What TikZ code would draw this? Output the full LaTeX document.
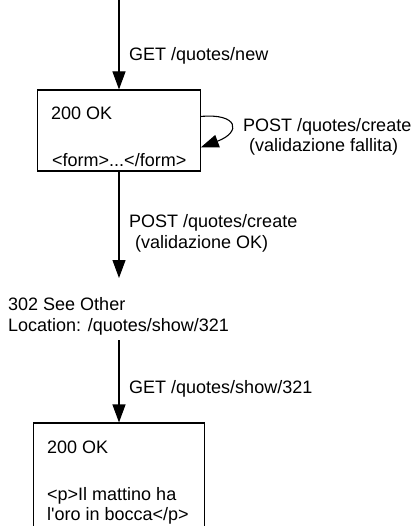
\documentclass[tikz,border=0pt]{standalone}
\usepackage{fontspec}
\newfontfamily\lsans{Liberation Sans}
\usetikzlibrary{arrows.meta}
\tikzset{
  flow/.style={line width=1.1pt, -{Triangle[length=18pt,width=13pt]}},
  box/.style={draw, line width=1.1pt, rectangle, inner sep=0pt},
  txt/.style={anchor=base west, inner sep=0pt, font=\lsans\fontsize{18}{21}\selectfont}
}
\begin{document}
\begin{tikzpicture}[x=1pt,y=-1pt]
\useasboundingbox (0,0) rectangle (414,526);
\fill[white] (0,0) rectangle (414,526);
\clip (0,0) rectangle (414,526);
% boxes
\node[box, minimum width=163pt, minimum height=81pt] (box1) at (119,130.5) {};
\node[box, minimum width=171pt, minimum height=120pt] (box2) at (119,483) {};
% texts
\node[txt] (b1a) at (51,120) {200 OK};
\node[txt] (b1b) at (52,167) {<form>...</form>};
\node[txt] (l1) at (129,61) {GET /quotes/new};
\node[txt] (l2a) at (243,132) {POST /quotes/create};
\node[txt] (l2b) at (249,152) {(validazione fallita)};
\node[txt] (l3a) at (129,227) {POST /quotes/create};
\node[txt] (l3b) at (135,248) {(validazione OK)};
\node[txt] (r1) at (8,310) {302 See Other};
\node[txt] (r2) at (8,331) {Location: /quotes/show/321};
\node[txt] (l4) at (129,393) {GET /quotes/show/321};
\node[txt] (b2a) at (47,453) {200 OK};
\node[txt] (b2b) at (47,500) {<p>Il mattino ha};
\node[txt] (b2c) at (47,520) {l'oro in bocca</p>};
% connectors
\coordinate (top) at (119,-2);
\coordinate (mid) at (119,278);
\coordinate (redir) at (119,340);
\coordinate (ls) at (200.7,116.5);
\coordinate (le) at (200.7,147.5);
\draw[flow] (top) -- (box1.north);
\draw[flow] (box1.south) -- (mid);
\draw[flow] (redir) -- (box2.north);
\draw[flow] (ls) .. controls (238,113) and (242,132) .. (le);
\end{tikzpicture}
\end{document}
